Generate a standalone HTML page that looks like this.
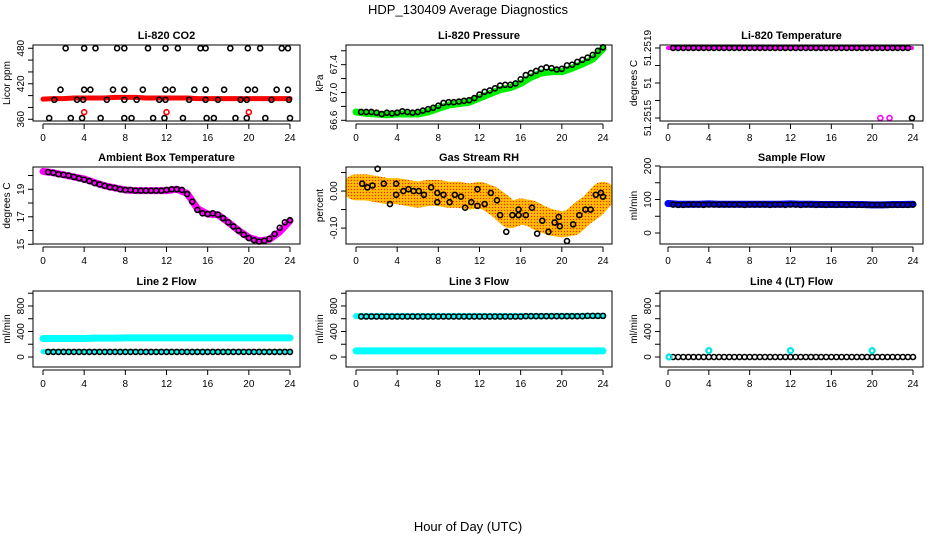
<!DOCTYPE html>
<html><head><meta charset="utf-8"><style>
html,body{margin:0;padding:0;background:#fff;}
svg text{font-family:"Liberation Sans",Arial,sans-serif;}
</style></head><body>
<svg id="c" width="936" height="540" viewBox="0 0 936 540" xmlns="http://www.w3.org/2000/svg">
<defs>
<pattern id="rhpat" width="3" height="3" patternUnits="userSpaceOnUse">
<rect width="3" height="3" fill="#ffb000"/>
<rect width="1" height="1" fill="#ff2000"/>
<rect x="1.5" y="1.5" width="1" height="1" fill="#ffe000"/>
</pattern>
</defs>
<text x="468" y="14" text-anchor="middle" font-size="13">HDP_130409  Average Diagnostics</text>
<text x="468" y="531" text-anchor="middle" font-size="13">Hour of Day (UTC)</text>
</svg>
<script>
const xTicks=[0,4,8,12,16,20,24];
const halfHours=[0.5,1,1.5,2,2.5,3,3.5,4,4.5,5,5.5,6,6.5,7,7.5,8,8.5,9,9.5,10,10.5,11,11.5,12,12.5,13,13.5,14,14.5,15,15.5,16,16.5,17,17.5,18,18.5,19,19.5,20,20.5,21,21.5,22,22.5,23,23.5,24];
const hours=[0,1,2,3,4,5,6,7,8,9,10,11,12,13,14,15,16,17,18,19,20,21,22,23,24];
// CO2
const co2Hours=[2.2,4.0,5.1,7.2,7.9,10.2,11.9,13.1,15.3,15.8,18.2,19.9,21.1,23.2,23.8, 1.7,4.0,4.6,6.8,7.9,9.7,11.9,12.6,14.7,15.8,17.6,19.9,20.6,22.7,23.8, 1.1,3.3,3.9,6.2,7.9,9.1,11.3,11.9,14.2,15.8,17.0,19.2,19.8,22.2,23.9, 0.6,2.7,3.8,5.6,7.9,8.6,10.7,11.8,13.6,15.9,16.6,18.7,19.8,21.6,24.0];
const co2Vals=[480,480,480,480,480,480,480,480,480,480,480,480,480,480,480, 410,410,410,410,410,410,410,410,410,410,410,410,410,410,410, 393,393,393,393,393,393,393,393,393,393,393,393,393,393,393, 362,362,362,362,362,362,362,362,362,362,362,362,362,362,362];
const co2Band=[394,395,395,396,396,396,396,397,397,397,396,396,396,396,396,395,395,395,395,395,395,395,395,395,395];
const co2RedHours=[4,12,20];
const co2RedVals=[372,372,372];
// Pressure
const presVals=[66.72,66.72,66.72,66.71,66.69,66.71,66.70,66.71,66.73,66.72,66.71,66.72,66.74,66.76,66.78,66.81,66.85,66.86,66.86,66.87,66.88,66.89,66.92,66.97,67.01,67.03,67.06,67.10,67.11,67.11,67.13,67.19,67.25,67.28,67.31,67.34,67.36,67.35,67.33,67.34,67.39,67.40,67.44,67.47,67.50,67.54,67.60,67.65];
const presBand=[66.72,66.70,66.69,66.68,66.69,66.69,66.69,66.72,66.77,66.82,66.84,66.86,66.92,66.98,67.04,67.07,67.13,67.22,67.28,67.30,67.30,67.35,67.41,67.48,67.63];
// Li-820 temperature
const tempHiHours=[0.5,1,1.5,2,2.5,3,3.5,4,4.5,5,5.5,6,6.5,7,7.5,8,8.5,9,9.5,10,10.5,11,11.5,12,12.5,13,13.5,14,14.5,15,15.5,16,16.5,17,17.5,18,18.5,19,19.5,20,20.5,21,21.5,22,22.5,23,23.5];
const tempLoPinkHours=[20.8,21.7];
const tempLoBlackHours=[23.9];
// Ambient
const ambVals=[20.25,20.2,20.1,20.05,20.0,19.9,19.8,19.7,19.6,19.45,19.35,19.25,19.15,19.1,19.0,18.95,18.95,18.9,18.9,18.9,18.9,18.9,18.9,18.95,19.0,19.0,18.95,18.65,18.1,17.5,17.25,17.2,17.25,17.15,16.9,16.6,16.3,16.0,15.7,15.45,15.3,15.2,15.25,15.4,15.75,16.2,16.6,16.75];
const ambBand=[20.3,20.2,20.05,19.9,19.75,19.5,19.25,19.1,18.95,18.9,18.9,18.9,18.9,19.0,18.7,17.6,17.2,17.15,16.6,16.0,15.5,15.25,15.35,15.9,16.7];
// Gas stream RH
const rhHours=[0.6,1.1,1.6,2.1,2.7,3.3,3.9,3.9,4.6,5.1,5.6,6.1,6.6,7.3,7.9,7.9,8.5,9.1,9.6,10.2,10.6,11.2,11.8,11.8,12.5,13.1,13.7,14.0,14.6,15.2,15.8,15.8,16.5,17.1,17.6,18.1,18.7,19.3,19.7,19.8,20.5,21.1,21.7,22.3,22.8,23.3,23.8,24.0];
const rhVals=[0.02,0.01,0.015,0.06,0.02,-0.035,0.02,-0.01,0.0,0.005,0.0,0.0,-0.01,0.01,-0.005,-0.03,-0.01,-0.03,-0.01,-0.015,-0.045,-0.03,0.005,-0.04,-0.035,-0.005,-0.025,-0.065,-0.11,-0.065,-0.065,-0.05,-0.065,-0.045,-0.115,-0.08,-0.11,-0.085,-0.07,-0.095,-0.135,-0.09,-0.065,-0.05,-0.05,-0.01,-0.005,-0.015];
const rhBand=[0.01,0.01,0.005,0.0,0.0,-0.005,-0.01,-0.005,-0.005,-0.01,-0.01,-0.015,-0.01,-0.02,-0.04,-0.065,-0.055,-0.06,-0.075,-0.085,-0.09,-0.085,-0.06,-0.04,-0.01];
// Flows
const sampleVals=[85,84,84,85,85,85,84,85,85,85,85,85,85,85,84,85,85,85,85,84,85,85,84,85,85,84,85,85,84,85,84,85,84,85,84,85,84,84,84,84,84,84,84,84,84,84,84,85];
const sampleBand=[88,86,86,86,87,86,86,86,86,86,86,86,87,86,86,85,85,85,85,85,84,84,85,85,86];
const line2Vals=halfHours.map(()=>80);
const line2Band=[290,290,290,290,290,295,295,295,300,300,300,300,300,300,300,300,300,300,300,300,300,300,300,300,300];
const line3Vals=[635,635,635,635,635,635,635,635,635,635,635,635,635,635,635,635,635,635,635,635,635,635,635,635,635,635,635,635,635,635,635,635,640,640,640,640,640,640,640,640,640,640,640,640,645,645,645,645];
const line3Band=[640,640,640,640,640,640,640,640,640,640,640,640,640,640,640,640,640,640,640,645,645,645,645,645,645];
const line3LowBand=[95,95,95,95,95,95,95,95,95,95,95,95,95,95,95,95,95,95,95,95,95,95,95,95,95];
const line4Vals=halfHours.map(()=>0);
const line4CyanHours=[0.1,4,12,20];
const line4CyanVals=[0,100,100,100];

const NS='http://www.w3.org/2000/svg';
const svg=document.getElementById('c');
const colL=[33,346,660],colR=[300,612,923],colX0=[43,356,668],colX24=[290,603,913];
const rowT=[45,167,291],rowB=[121,244,367];
function mk(tag,attrs,parent){const e=document.createElementNS(NS,tag);for(const k in attrs)e.setAttribute(k,attrs[k]);(parent||svg).appendChild(e);return e;}

function panel(name,col,row,ylo,yhi,title,ylab,yticks,ylabels){
  const g=mk('g',{});
  
  
  const L=colL[col],R=colR[col],T=rowT[row],B=rowB[row];
  const xs=h=>colX0[col]+(colX24[col]-colX0[col])*h/24;
  const ys=v=>B-(v-ylo)/(yhi-ylo)*(B-T);
  const t=mk('text',{x:(L+R)/2,y:T-6,'text-anchor':'middle','font-size':'11','font-weight':'bold'},g);
  t.textContent=title;
  
  
  const xa=mk('g',{},g);
  
  
  mk('line',{x1:xs(0),x2:xs(24),y1:B+3,y2:B+3,stroke:'#000'},xa);
  xTicks.forEach(v=>{mk('line',{x1:xs(v),x2:xs(v),y1:B+3,y2:B+8,stroke:'#000'},xa);
    const tx=mk('text',{x:xs(v),y:B+20,'text-anchor':'middle','font-size':'10'},xa);tx.textContent=v;});
  const ya=mk('g',{},g);
  
  
  mk('line',{x1:L,x2:L,y1:ys(yticks[0]),y2:ys(yticks[yticks.length-1]),stroke:'#000'},ya);
  yticks.forEach((v,i)=>{const y=ys(v);mk('line',{x1:L-5,x2:L,y1:y,y2:y,stroke:'#000'},ya);
    if(ylabels[i]){const tx=mk('text',{x:0,y:0,'text-anchor':'middle','font-size':'10',transform:`translate(${L-9},${y}) rotate(-90)`},ya);tx.textContent=ylabels[i];}});
  const yl=mk('text',{x:0,y:0,'text-anchor':'middle','font-size':'10',transform:`translate(${L-23},${(T+B)/2}) rotate(-90)`},g);
  yl.textContent=ylab;
  
  
  const clip=mk('clipPath',{id:'cp'+name},g);mk('rect',{x:L,y:T-4,width:R-L,height:B-T+8},clip);
  const plot=mk('g',{'clip-path':`url(#cp${name})`},g);
  
  
  const box=mk('rect',{x:L,y:T,width:R-L,height:B-T,fill:'none',stroke:'#000'},g);
  
  
  return {plot,xs,ys};
}
function band(p,name,hs,vs,color,w){
  const pl=mk('polyline',{points:hs.map((h,i)=>p.xs(h)+','+p.ys(vs[i])).join(' '),fill:'none',stroke:color,'stroke-width':w,'stroke-linejoin':'round','stroke-linecap':'round'},p.plot);
  
  
}
function pts(p,name,hs,vs,color,r,sw){
  const g=mk('g',{},p.plot);
  
  
  hs.forEach((h,i)=>mk('circle',{cx:p.xs(h),cy:p.ys(vs[i]),r:r||2.5,fill:'none',stroke:color,'stroke-width':sw||1.6},g));
}

let p=panel('co2',0,0,357.1,485.5,'Li-820 CO2','Licor ppm',[360,380,400,420,440,460,480],['360','','','420','','','480']);
band(p,'co2-band',hours,co2Band,'#ff0000',5);
pts(p,'co2-points',co2Hours,co2Vals,'#000');
pts(p,'co2-red-points',co2RedHours,co2RedVals,'#ff0000');

p=panel('pressure',1,0,66.59,67.683,'Li-820 Pressure','kPa',[66.6,66.8,67.0,67.2,67.4,67.6],['66.6','','67.0','','67.4','']);
band(p,'pressure-band',hours,presBand,'#00ee00',7);
pts(p,'pressure-points',halfHours,presVals,'#000');

p=panel('li820-temp',2,0,51.251483,51.251917,'Li-820 Temperature','degrees C',[51.2515,51.2516,51.2517,51.2518,51.2519],['51.2515','','51','','51.2519']);
band(p,'li820-temp-band',[0,23.9],[51.2519,51.2519],'#ff00ff',4);
pts(p,'li820-temp-points',tempHiHours,tempHiHours.map(()=>51.2519),'#000');
pts(p,'li820-temp-low-pink',tempLoPinkHours,tempLoPinkHours.map(()=>51.2515),'#ff00ff');
pts(p,'li820-temp-low-black',tempLoBlackHours,[51.2515],'#000');

p=panel('ambient',0,1,15.02,20.62,'Ambient Box Temperature','degrees C',[15,16,17,18,19,20],['15','','17','','19','']);
band(p,'ambient-band',hours,ambBand,'#ff00ff',7);
pts(p,'ambient-points',halfHours,ambVals,'#000');

p=panel('rh',1,1,-0.143,0.065,'Gas Stream RH','percent',[-0.1,-0.05,0,0.05],['-0.10','','0.00','']);
band(p,'rh-band',hours,rhBand,'url(#rhpat)',26);
pts(p,'rh-points',rhHours,rhVals,'#000');

p=panel('sample-flow',2,1,-32.8,197,'Sample Flow','ml/min',[0,50,100,150,200],['0','','100','','200']);
band(p,'sample-flow-band',hours,sampleBand,'#0000ff',7);
pts(p,'sample-flow-points',halfHours,sampleVals,'#000');

p=panel('line2-flow',0,2,-157,1035,'Line 2 Flow','ml/min',[0,200,400,600,800,1000],['0','','400','','800','']);
band(p,'line2-band',hours,line2Band,'#00ffff',7);
band(p,'line2-low-band',[0,24],[85,85],'#00ffff',5);
pts(p,'line2-points',halfHours,line2Vals,'#000');

p=panel('line3-flow',1,2,-157,1035,'Line 3 Flow','ml/min',[0,200,400,600,800,1000],['0','','400','','800','']);
band(p,'line3-band',hours,line3Band,'#00ffff',6);
band(p,'line3-low-band',hours,line3LowBand,'#00ffff',7);
pts(p,'line3-points',halfHours,line3Vals,'#000');

p=panel('line4-flow',2,2,-157,1035,'Line 4 (LT) Flow','ml/min',[0,200,400,600,800,1000],['0','','400','','800','']);
pts(p,'line4-points',halfHours,line4Vals,'#000');
pts(p,'line4-cyan-points',line4CyanHours,line4CyanVals,'#00e5e5',2.5,2.2);
</script>
</body></html>
